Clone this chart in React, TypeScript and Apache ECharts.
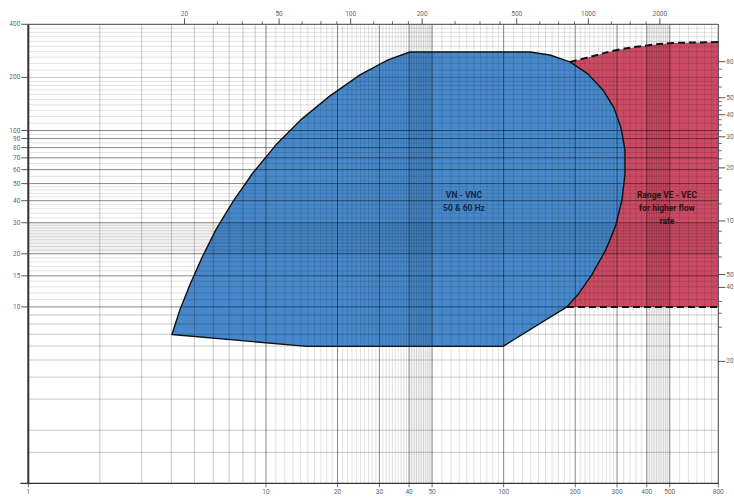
import React, { useEffect, useRef } from "react";
import * as echarts from "echarts";

// ---- axis ranges (bottom: flow m3/h, left: head; top: US gpm, right: second head unit)
const X_MIN = 1;
const X_MAX = 800;
const Y_MIN = 1;
const Y_MAX = 400;
const GPM_PER_M3H = 4.403;
const LEFT_PER_RIGHT = 3.07;

// ---- tick labels
const bottomTicks = [1, 10, 20, 30, 40, 50, 100, 200, 300, 400, 500, 800];
const topTicksMajor = [20, 50, 100, 200, 500, 1000, 2000];
const topTicksMinor = [27.5, 35, 42.5, 62.5, 75, 87.5, 125, 150, 175, 275, 350, 425, 625, 750, 875, 1250, 1500, 1750];
const leftTicks = [10, 15, 20, 30, 40, 50, 60, 70, 80, 90, 100, 200, 400];
const rightTickValues = [80, 50, 40, 30, 20, 10, 4.97, 4.2, 1.6];
const rightTickLabels = ["80", "50", "40", "30", "20", "10", "50", "40", "20"];
const rightTicksMinor = [72.5, 65, 57.5, 47.5, 45, 42.5, 37.5, 35, 32.5, 27.5, 25, 22.5, 17.5, 15, 12.5, 8.75, 7.5, 6.25, 3.5, 3, 2.5];

// ---- graph-paper lines (bottom-axis values / left-axis values)
const vDark = [10, 20, 30, 40, 50, 100, 200, 300, 400, 500];
const vMedium = [2, 3, 4, 5, 6, 7, 8, 9];
const vFine = [11, 12, 13, 14, 15, 16, 17, 18, 19, 21, 22, 23, 24, 25, 26, 27, 28, 29, 31, 32, 33, 34, 35, 36, 37, 38, 39,
  41, 42, 43, 44, 45, 46, 47, 48, 49, 55, 60, 65, 70, 75, 80, 85, 90, 95, 110, 120, 130, 140, 150, 160, 170, 180, 190,
  210, 220, 230, 240, 250, 260, 270, 280, 290, 320, 340, 360, 380, 410, 420, 430, 440, 450, 460, 470, 480, 490,
  550, 600, 650, 700, 750];
const hDark = [10, 15, 20, 30, 40, 50, 60, 70, 80, 90, 100];
const hMedium = [1.5, 2, 3, 4, 5, 6, 7, 8, 9, 200];
const hFine = [11, 12, 13, 14, 16, 17, 18, 19, 21, 22, 23, 24, 25, 26, 27, 28, 29, 32, 34, 36, 38, 42, 44, 46, 48,
  55, 65, 75, 85, 95, 110, 120, 130, 140, 150, 160, 170, 180, 190, 220, 240, 260, 280, 300, 320, 340, 360, 380];
const bandsX = [[40, 50], [400, 500]];
const bandsY = [[20, 30]];

// ---- operating range VN - VNC (flow, head)
const blueX = [40.35, 129.0, 156.6, 190.1, 226.3, 261.6, 291.1, 311.6, 323.9, 323.9, 314.6, 296.9, 269.4, 235.2, 205.4, 184.6,
  99.3, 14.88, 4.02, 4.35, 4.79, 5.38, 6.16, 7.26, 8.82, 11.02, 14.17, 18.59, 24.86, 32.61];
const blueY = [278.7, 278.7, 268.0, 244.7, 209.3, 169.9, 134.4, 103.6, 77.7, 56.1, 40.5, 29.26, 21.12, 15.25, 11.75, 10,
  5.97, 5.97, 6.98, 9.66, 13.39, 19.03, 27.42, 39.48, 57.6, 82.95, 116.4, 157.1, 206.6, 251.2];

// ---- range VE - VEC (dashed limits)
const redTopX = [190.1, 230.8, 299.7, 400.8, 515.5, 669.6, 800];
const redTopY = [244.7, 261.3, 286.2, 303.5, 313.5, 315.5, 317.6];
const redBottomX = [184.6, 800];
const redBottomY = [10, 10];

// ---- annotations
const vnLines = ["VN - VNC", "50 & 60 Hz"];
const vnAnchor = [68.1, 39.7];
const veLines = ["Range VE - VEC", "for higher flow", "rate"];
const veAnchor = [486.4, 36.3];

const BLUE = "#4788ca";
const RED = "#cb4b64";
const FONT = "Roboto";

function txt(x: number, y: number, text: string, align: string, valign: string, extra: any = {}) {
  return {
    type: "text",
    x,
    y,
    style: {
      text,
      fill: "#666",
      fontSize: 6.5,
      fontFamily: FONT,
      align,
      verticalAlign: valign,
      textAlign: align,
      textVerticalAlign: valign,
      ...extra,
    },
  };
}

function ln(x1: number, y1: number, x2: number, y2: number, stroke: string, lineWidth = 1) {
  return { type: "line", shape: { x1, y1, x2, y2 }, style: { stroke, lineWidth } };
}

export default function App() {
  const ref = useRef<HTMLDivElement>(null);

  useEffect(() => {
    const chart = echarts.init(ref.current!, null, { renderer: "svg" });

    const frameBox = (api: any) => {
      const a = api.coord([X_MIN, Y_MIN]);
      const b = api.coord([X_MAX, Y_MAX]);
      return { left: a[0], bottom: a[1], right: b[0], top: b[1] };
    };

    const option: any = {
      animation: false,
      backgroundColor: "#ffffff",
      grid: { left: 28.3, right: 15.7, top: 24.3, bottom: 14.7 },
      xAxis: {
        type: "log",
        logBase: 10,
        min: X_MIN,
        max: X_MAX,
        axisLine: { show: false },
        axisTick: { show: false },
        axisLabel: { show: false },
        splitLine: { show: false },
      },
      yAxis: {
        type: "log",
        logBase: 10,
        min: Y_MIN,
        max: Y_MAX,
        axisLine: { show: false },
        axisTick: { show: false },
        axisLabel: { show: false },
        splitLine: { show: false },
      },
      series: [
        // filled areas
        {
          type: "custom",
          coordinateSystem: "cartesian2d",
          data: [[10, 10]],
          clip: false,
          silent: true,
          z: 1,
          renderItem: (_p: any, api: any) => {
            const pt = (x: number, y: number) => api.coord([x, y]);
            const redPts = redTopX.map((x, i) => pt(x, redTopY[i]));
            redPts.push(pt(redBottomX[1], redBottomY[1]));
            redPts.push(pt(redBottomX[0], redBottomY[0]));
            const bluePts = blueX.map((x, i) => pt(x, blueY[i]));
            return {
              type: "group",
              children: [
                { type: "polygon", shape: { points: redPts }, style: { fill: RED, stroke: null } },
                { type: "polygon", shape: { points: bluePts }, style: { fill: BLUE, stroke: null } },
              ],
            };
          },
        },
        // graph paper
        {
          type: "custom",
          coordinateSystem: "cartesian2d",
          data: [[10, 10]],
          clip: false,
          silent: true,
          z: 2,
          renderItem: (_p: any, api: any) => {
            const f = frameBox(api);
            const ch: any[] = [];
            bandsX.forEach(([a, b]) => {
              const xa = api.coord([a, Y_MIN])[0];
              const xb = api.coord([b, Y_MIN])[0];
              ch.push({ type: "rect", shape: { x: xa, y: f.top, width: xb - xa, height: f.bottom - f.top }, style: { fill: "rgba(0,0,0,0.05)" } });
            });
            bandsY.forEach(([a, b]) => {
              const ya = api.coord([X_MIN, a])[1];
              const yb = api.coord([X_MIN, b])[1];
              ch.push({ type: "rect", shape: { x: f.left, y: yb, width: f.right - f.left, height: ya - yb }, style: { fill: "rgba(0,0,0,0.05)" } });
            });
            const vline = (v: number, c: string) => {
              const x = api.coord([v, Y_MIN])[0];
              ch.push(ln(x, f.top, x, f.bottom, c, 0.8));
            };
            const hline = (v: number, c: string) => {
              const y = api.coord([X_MIN, v])[1];
              ch.push(ln(f.left, y, f.right, y, c, 0.8));
            };
            vFine.forEach((v) => vline(v, "rgba(0,0,0,0.15)"));
            hFine.forEach((v) => hline(v, "rgba(0,0,0,0.15)"));
            vMedium.forEach((v) => vline(v, "rgba(0,0,0,0.28)"));
            hMedium.forEach((v) => hline(v, "rgba(0,0,0,0.28)"));
            vDark.forEach((v) => vline(v, "rgba(0,0,0,0.6)"));
            hDark.forEach((v) => hline(v, "rgba(0,0,0,0.6)"));
            return { type: "group", children: ch };
          },
        },
        // blue outline
        {
          type: "custom",
          coordinateSystem: "cartesian2d",
          data: [[10, 10]],
          clip: false,
          silent: true,
          z: 3,
          renderItem: (_p: any, api: any) => {
            const pts = blueX.map((x, i) => api.coord([x, blueY[i]]));
            return {
              type: "polygon",
              shape: { points: pts },
              style: { fill: null, stroke: "#111", lineWidth: 1.4, lineJoin: "round" },
            };
          },
        },
        // red dashed limits
        {
          type: "line",
          data: redTopX.map((x, i) => [x, redTopY[i]]),
          smooth: 0.35,
          symbol: "none",
          silent: true,
          z: 3,
          lineStyle: { color: "#111", width: 2, type: [7, 4] },
        },
        {
          type: "line",
          data: redBottomX.map((x, i) => [x, redBottomY[i]]),
          symbol: "none",
          silent: true,
          z: 3,
          lineStyle: { color: "#111", width: 2, type: [7, 4] },
        },
        // frame, ticks and labels
        {
          type: "custom",
          coordinateSystem: "cartesian2d",
          data: [[10, 10]],
          clip: false,
          silent: true,
          z: 4,
          renderItem: (_p: any, api: any) => {
            const f = frameBox(api);
            const ch: any[] = [];
            ch.push(ln(f.left - 8, f.bottom, f.right, f.bottom, "#333", 1.3));
            ch.push(ln(f.left, f.top, f.right, f.top, "#444", 1));
            ch.push(ln(f.right, f.top, f.right, f.bottom, "#444", 1));
            ch.push(ln(f.left, f.top, f.left, f.bottom, "#333", 2));
            bottomTicks.forEach((v) => {
              const x = api.coord([v, Y_MIN])[0];
              ch.push(ln(x, f.bottom, x, f.bottom + 4, "#444", 0.8));
              ch.push(txt(x, f.bottom + 5.5, String(v), "center", "top"));
            });
            topTicksMajor.forEach((g) => {
              const x = api.coord([g / GPM_PER_M3H, Y_MIN])[0];
              ch.push(ln(x, f.top, x, f.top - 6, "#444", 0.9));
              ch.push(txt(x, f.top - 6.5, String(g), "center", "bottom"));
            });
            topTicksMinor.forEach((g) => {
              const x = api.coord([g / GPM_PER_M3H, Y_MIN])[0];
              ch.push(ln(x, f.top, x, f.top - 3, "#444", 0.8));
            });
            leftTicks.forEach((v) => {
              const y = api.coord([X_MIN, v])[1];
              ch.push(ln(f.left - 7, y, f.left, y, "#444", 0.9));
              ch.push(txt(f.left - 8, y, String(v), "right", "middle"));
            });
            rightTickValues.forEach((r, i) => {
              const y = api.coord([X_MIN, r * LEFT_PER_RIGHT])[1];
              ch.push(ln(f.right, y, f.right + 7, y, "#444", 0.9));
              ch.push(txt(f.right + 8, y, rightTickLabels[i], "left", "middle"));
            });
            rightTicksMinor.forEach((r) => {
              const y = api.coord([X_MIN, r * LEFT_PER_RIGHT])[1];
              ch.push(ln(f.right, y, f.right + 3.5, y, "#444", 0.8));
            });
            return { type: "group", children: ch };
          },
        },
        // annotations
        {
          type: "custom",
          coordinateSystem: "cartesian2d",
          data: [[10, 10]],
          clip: false,
          silent: true,
          z: 5,
          renderItem: (_p: any, api: any) => {
            const a = api.coord(vnAnchor);
            const b = api.coord(veAnchor);
            return {
              type: "group",
              children: [
                txt(a[0], a[1], vnLines.join("\n"), "center", "middle", {
                  fill: "#14284a", fontSize: 8.5, fontWeight: "bold", lineHeight: 13,
                }),
                txt(b[0], b[1], veLines.join("\n"), "center", "middle", {
                  fill: "#2a1212", fontSize: 8.5, fontWeight: "bold", lineHeight: 13,
                }),
              ],
            };
          },
        },
      ],
    };

    chart.setOption(option);
    return () => chart.dispose();
  }, []);

  return (
    <div
      ref={ref}
      style={{ position: "fixed", left: 0, top: 0, width: 734, height: 498, background: "#fff" }}
    />
  );
}
